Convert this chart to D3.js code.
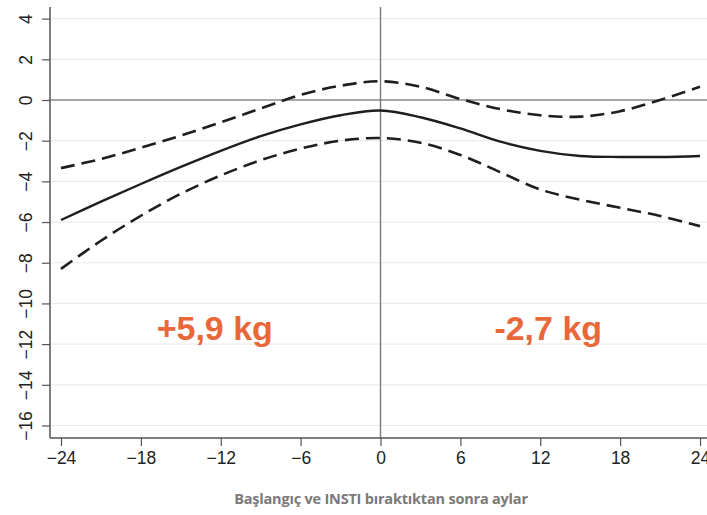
<!DOCTYPE html>
<html><head><meta charset="utf-8">
<script src="https://cdn.jsdelivr.net/npm/d3@7"></script>
<style>body{margin:0;background:#fff}svg{display:block}</style>
</head><body>
<svg id="c" width="707" height="515"></svg>
<script>
const months = [-24,-21,-18,-15,-12,-9,-6,-3,0,3,6,9,12,15,18,21,24];
const estimate = [-5.9,-5.0,-4.13,-3.29,-2.5,-1.78,-1.2,-0.75,-0.52,-0.85,-1.4,-2.05,-2.5,-2.75,-2.8,-2.8,-2.75];
const upperCI  = [-3.35,-2.9,-2.35,-1.75,-1.1,-0.42,0.25,0.7,0.92,0.65,0.05,-0.45,-0.75,-0.82,-0.55,0.0,0.65];
const lowerCI  = [-8.3,-6.92,-5.69,-4.61,-3.71,-2.96,-2.39,-2.0,-1.87,-2.1,-2.7,-3.55,-4.4,-4.9,-5.3,-5.7,-6.2];
const xTicks = [-24,-18,-12,-6,0,6,12,18,24];
const yTicks = [4,2,0,-2,-4,-6,-8,-10,-12,-14,-16];
const annotations = [{x:-12.45, y:-11.2, text:"+5,9 kg"},{x:12.6, y:-11.2, text:"-2,7 kg"}];
const xTitle = "Başlangıç ve INSTI bıraktıktan sonra aylar";

const svg = d3.select("#c");
const x = d3.scaleLinear().domain([-24,24]).range([61,700]);
const y = d3.scaleLinear().domain([-16,4]).range([425.5,18.6]);
const pL = 50, pR = 720, pT = 7, pB = 438;

svg.append("g").selectAll("line").data(yTicks.filter(d=>d!==0)).join("line")
  .attr("x1",pL).attr("x2",pR).attr("y1",d=>y(d)).attr("y2",d=>y(d))
  .attr("stroke","#ececec").attr("stroke-width",1.2);

svg.append("line").attr("x1",pL).attr("x2",pR).attr("y1",y(0)).attr("y2",y(0))
  .attr("stroke","#8a8a8a").attr("stroke-width",1.6);
svg.append("line").attr("x1",x(0)).attr("x2",x(0)).attr("y1",pT).attr("y2",pB)
  .attr("stroke","#7a7a7a").attr("stroke-width",1.4);

const fmt = d=>d<0?"\u2212"+Math.abs(d):d;
const yAxis = svg.append("g").attr("transform",`translate(${pL},0)`)
  .call(d3.axisLeft(y).tickValues(yTicks).tickSize(8).tickFormat(fmt));
yAxis.select(".domain").remove();
yAxis.append("line").attr("x1",0).attr("x2",0).attr("y1",pT).attr("y2",pB).attr("stroke","#555").attr("stroke-width",1.5);
yAxis.selectAll(".tick line").attr("stroke","#555").attr("stroke-width",1.2);
yAxis.selectAll(".tick text").attr("transform","translate(-24,0) rotate(-90)")
  .attr("x",0).attr("dy","0.35em").attr("text-anchor","middle")
  .style("font-family","'Liberation Sans',Arial,sans-serif").style("font-size","17.5px").attr("fill","#222");

const xAxis = svg.append("g").attr("transform",`translate(0,${pB})`)
  .call(d3.axisBottom(x).tickValues(xTicks).tickSize(8).tickFormat(fmt));
xAxis.select(".domain").remove();
xAxis.append("line").attr("x1",pL).attr("x2",pR).attr("y1",0).attr("y2",0).attr("stroke","#555").attr("stroke-width",1.5);
xAxis.selectAll(".tick line").attr("stroke","#555").attr("stroke-width",1.2);
xAxis.selectAll(".tick text").attr("y",20).attr("dy","0.35em")
  .style("font-family","'Liberation Sans',Arial,sans-serif").style("font-size","17.5px").attr("fill","#222");

const line = d3.line().x((d,i)=>x(months[i])).y(d=>y(d)).curve(d3.curveCatmullRom.alpha(0.5));
svg.append("path").attr("d",line(upperCI)).attr("fill","none").attr("stroke","#1e1e1e")
  .attr("stroke-width",2.6).attr("stroke-dasharray","14,7");
svg.append("path").attr("d",line(lowerCI)).attr("fill","none").attr("stroke","#1e1e1e")
  .attr("stroke-width",2.6).attr("stroke-dasharray","14,7");
svg.append("path").attr("d",line(estimate)).attr("fill","none").attr("stroke","#1e1e1e")
  .attr("stroke-width",2.4);

svg.append("g").selectAll("text").data(annotations).join("text")
  .attr("x",d=>x(d.x)).attr("y",d=>y(d.y)).attr("text-anchor","middle").attr("dy","0.35em")
  .style("font-family","'Liberation Sans',Arial,sans-serif").style("font-weight","bold").style("font-size","34px")
  .attr("fill","#e8683a").text(d=>d.text);

svg.append("text").attr("x",381).attr("y",504).attr("text-anchor","middle")
  .style("font-family","'Open Sans',sans-serif").style("font-weight","bold").style("font-size","14.5px")
  .attr("letter-spacing","-0.2px").attr("fill","#7a7a7a").text(xTitle);
</script>
</body></html>
